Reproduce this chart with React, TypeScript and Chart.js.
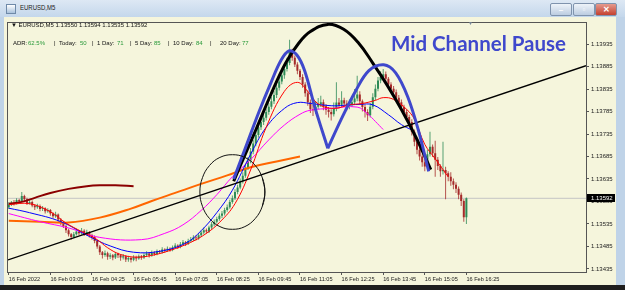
import React, { useEffect, useRef } from 'react';
import { Chart, registerables } from 'chart.js';
Chart.register(...registerables);

// prices are stored as points (0.00001) above 1.13000
const BASE = 1.13;
const PT = 0.00001;

const xTickIndex = [0, 16, 32, 48, 64, 80, 96, 112, 128, 144, 160, 176];
const xTickLabels = ['16 Feb 2022', '16 Feb 03:05', '16 Feb 04:25', '16 Feb 05:45', '16 Feb 07:05', '16 Feb 08:25', '16 Feb 09:45', '16 Feb 11:05', '16 Feb 12:25', '16 Feb 13:45', '16 Feb 15:05', '16 Feb 16:25'];
const yTicks = [1.13435, 1.13485, 1.13535, 1.13585, 1.13635, 1.13685, 1.13735, 1.13785, 1.13835, 1.13885, 1.13935];

const opens = [572,578,582,580,588,585,597,590,581,584,
 576,572,575,568,570,563,566,558,552,556,
 545,538,530,521,512,506,512,518,514,520,
 513,517,510,506,497,485,472,466,470,462,
 465,460,468,465,460,463,456,459,455,461,
 458,463,460,466,469,465,471,468,474,472,
 478,476,480,477,483,487,484,490,494,491,
 497,500,505,503,510,516,521,518,527,534,
 540,546,553,558,566,572,584,592,606,616,
 630,642,660,676,696,714,733,750,762,771,
 784,796,808,822,838,852,866,880,893,918,
 905,890,876,862,845,826,806,790,788,796,
 802,806,797,789,784,779,792,805,800,810,
 803,797,801,806,814,823,808,795,784,777,
 796,817,836,854,862,868,858,845,836,828,
 816,806,795,784,773,762,740,718,700,685,
 672,663,690,707,692,678,664,652,655,648,
 640,630,622,613,600,586,550];
const highs = [583,586,588,592,591,606,600,593,589,587,
 579,580,578,575,572,570,568,561,562,558,
 548,541,533,524,515,517,524,521,526,523,
 522,519,513,509,499,488,475,476,473,470,
 468,472,471,468,468,465,464,462,465,464,
 467,466,470,474,472,476,474,478,477,483,
 481,485,483,487,492,490,495,499,497,502,
 506,510,509,515,520,527,525,531,539,545,
 551,558,564,571,578,589,598,612,622,636,
 650,667,684,704,722,740,758,772,780,792,
 804,818,831,846,861,876,890,905,945,925,
 910,895,880,868,850,832,812,800,808,815,
 820,812,802,795,790,805,850,815,830,816,
 810,812,818,835,865,830,812,800,790,804,
 826,845,862,875,880,874,862,850,842,834,
 822,812,800,790,778,768,745,724,706,690,
 678,700,740,712,720,684,668,718,662,652,
 650,636,628,618,605,590,594];
const lows = [568,575,576,578,580,583,586,577,578,572,
 566,569,563,564,558,560,553,547,549,540,
 532,526,515,507,500,503,509,510,511,508,
 510,505,500,492,480,466,458,462,455,457,
 454,457,459,453,456,450,451,449,452,452,
 455,455,457,462,460,462,464,465,468,469,
 471,473,473,474,480,479,481,487,486,488,
 494,497,498,500,506,512,513,515,523,530,
 536,542,548,554,562,569,580,588,601,612,
 625,638,655,670,690,708,727,744,755,765,
 778,790,802,815,832,846,858,874,888,898,
 884,868,855,838,818,798,782,775,780,790,
 795,788,778,772,765,774,786,792,795,795,
 788,790,796,800,808,800,785,772,764,772,
 790,810,830,848,855,850,838,828,820,808,
 798,786,775,765,752,732,708,690,676,662,
 652,658,685,684,640,655,640,645,590,630,
 620,612,604,590,575,540,535];
const closes = [578,582,580,588,585,597,590,581,584,576,
 572,575,568,570,563,566,558,552,556,545,
 538,530,521,512,506,512,518,514,520,513,
 517,510,506,497,485,472,466,470,462,465,
 460,468,465,460,463,456,459,455,461,458,
 463,460,466,469,465,471,468,474,472,478,
 476,480,477,483,487,484,490,494,491,497,
 500,505,503,510,516,521,518,527,534,540,
 546,553,558,566,572,584,592,606,616,630,
 642,660,676,696,714,733,750,762,771,784,
 796,808,822,838,852,866,880,893,918,905,
 890,876,862,845,826,806,790,788,796,802,
 806,797,789,784,779,792,805,800,810,803,
 797,801,806,814,823,808,795,784,777,796,
 817,836,854,862,868,858,845,836,828,816,
 806,795,784,773,762,740,718,700,685,672,
 663,690,707,692,678,664,652,655,648,640,
 630,622,613,600,586,550,592];

// moving averages: [bar index, points]
const maRed = [[0,578],[8,580],[16,562],[22,537],[28,518],[34,500],[38,482],[43,467],[49,461],[55,465],[62,476],[70,494],[76,514],[81,538],[87,580],[93,655],[99,750],[106,830],[111,850],[115,830],[119,802],[125,792],[131,800],[136,803],[141,810],[144,816],[148,812],[153,790],[156,768],[160,712],[164,680],[169,640]];
const maBlue = [[0,570],[8,560],[20,540],[31,507],[39,486],[48,472],[58,474],[68,492],[74,520],[80,560],[86,610],[93,690],[99,750],[106,792],[111,805],[116,803],[124,798],[129,799],[135,801],[140,800],[146,778],[151,756],[155,744]];
const maMagenta = [[0,558],[12,540],[23,526],[35,505],[51,500],[60,514],[67,533],[74,565],[80,600],[86,640],[93,678],[100,722],[106,755],[112,779],[116,788],[124,792],[134,795],[138,780],[141,763],[144,745]];
const maOrange = [[0,542],[12,540],[23,538],[35,549],[47,569],[55,586],[64,604],[74,624],[84,643],[93,661],[103,674],[112,685]];
const maDarkRed = [[0,580],[5,584],[10,593],[16,604],[23,613],[30,619],[35,621],[41,621],[48,619]];

// hand-drawn annotations: [bar index, points]
const trendLine = [[-0.3,455],[222,887]];
const arcLine = [[86.5,630],[89.2,667],[95,744],[100.8,823],[106.5,893],[111.5,937],[116,963],[122.7,979],[128.8,968],[134.6,937],[140,893],[145.4,845],[150.8,792],[156.5,729],[162.3,656]];
const mLeft = [[86.5,635],[91.2,707],[96.2,784],[100.8,849],[104.6,898],[107.7,920],[110.8,911],[113.8,876],[117.7,795],[122.7,703]];
const mRight = [[122.7,703],[127.7,766],[133.5,832],[138.5,876],[144.2,889],[148.8,871],[153.5,817],[157.7,740],[161.5,652]];
const circleLine = [[97.5,574],[98.5,606],[97.5,638],[94.8,665],[90.8,683],[86,689],[81.2,683],[77.2,665],[74.5,638],[73.5,606],[74.5,574],[77.2,547],[81.2,529],[86,523],[90.8,529],[94.8,547],[97.5,574],[98.5,606],[97.5,638]];
const bidPts = 592;

const toPrice = (p: number) => +(BASE + p * PT).toFixed(5);
const pairs = (arr: number[][]) => arr.map(([x, y]) => ({ x, y: toPrice(y) }));
const fmt = (p: number) => toPrice(p).toFixed(5);

const UP = '#2e8b57';
const DN = '#a52a2a';
const UPW = 'rgba(46,139,87,0.8)';
const DNW = 'rgba(165,42,42,0.8)';
const FONT = '"Liberation Sans", Arial, sans-serif';

const line = (data: number[][], color: string, width: number, order: number, tension = 0.4) => ({
  type: 'line' as const,
  data: pairs(data),
  borderColor: color,
  borderWidth: width,
  pointRadius: 0,
  fill: false,
  tension,
  order,
});

export default function App() {
  const ref = useRef<HTMLCanvasElement>(null);
  useEffect(() => {
    document.body.style.margin = '0';
    const idx = closes.map((_, i) => i);
    const isUp = (i: number) => closes[i] >= opens[i];
    const framePlugin = {
      id: 'frame',
      afterDatasetsDraw(chart: any) {
        const { ctx, chartArea: a } = chart;
        ctx.save();
        ctx.strokeStyle = '#555';
        ctx.lineWidth = 1;
        ctx.strokeRect(Math.round(a.left) - 0.5, Math.round(a.top) - 0.5, Math.round(a.right - a.left) + 1, Math.round(a.bottom - a.top) + 1);
        ctx.restore();
      },
      afterDraw(chart: any) {
        const { ctx, chartArea: a } = chart;
        const y = chart.scales.y.getPixelForValue(toPrice(bidPts));
        ctx.save();
        ctx.fillStyle = '#000';
        ctx.fillRect(a.right + 1, Math.round(y) - 4, 28, 8);
        ctx.fillStyle = '#fff';
        ctx.font = '6px ' + FONT;
        ctx.textBaseline = 'middle';
        ctx.fillText(fmt(bidPts), a.right + 5, Math.round(y));
        ctx.restore();
      },
    };
    const chart = new Chart(ref.current as HTMLCanvasElement, {
      type: 'line',
      data: {
        datasets: [
          line(circleLine, '#111', 1, 1, 0.4),
          line(mLeft, '#3f48cc', 3, 2, 0.35),
          line(mRight, '#3f48cc', 3, 2, 0.35),
          line(arcLine, '#000', 3, 3, 0.4),
          line(trendLine, '#000', 1.4, 4, 0),
          line(maRed, '#ff0000', 1, 5),
          line(maBlue, '#0000ff', 1, 6),
          line(maMagenta, '#ff00ff', 1, 7),
          line(maOrange, '#ff6600', 2, 8),
          line(maDarkRed, '#8b0000', 2, 9),
          {
            type: 'bar' as const,
            data: idx.map((i) => ({ x: i, y: [toPrice(opens[i]), toPrice(closes[i])] })) as any,
            barThickness: 2,
            grouped: false,
            inflateAmount: 0,
            borderWidth: 0,
            backgroundColor: (c: any) => (isUp(c.dataIndex) ? UP : DN),
            order: 19,
          },
          {
            type: 'bar' as const,
            data: idx.map((i) => ({ x: i, y: [toPrice(lows[i]), toPrice(highs[i])] })) as any,
            barThickness: 1,
            grouped: false,
            inflateAmount: 0,
            borderWidth: 0,
            backgroundColor: (c: any) => (isUp(c.dataIndex) ? UPW : DNW),
            order: 20,
          },
          line([[-0.3, bidPts], [222, bidPts]], '#c4c4c4', 1, 25, 0),
        ] as any,
      },
      options: {
        animation: false,
        responsive: false,
        maintainAspectRatio: false,
        devicePixelRatio: 1,
        layout: { padding: { top: 2, left: 3, right: 0, bottom: 0 } },
        elements: { line: { capBezierPoints: false } },
        plugins: { legend: { display: false }, tooltip: { enabled: false } },
        scales: {
          x: {
            type: 'linear',
            min: -0.3,
            max: 222,
            offset: false,
            afterBuildTicks: (s: any) => { s.ticks = xTickIndex.map((v) => ({ value: v })); },
            afterFit: (s: any) => { s.height = 13; },
            grid: { drawOnChartArea: false, drawTicks: true, tickLength: 3, color: '#555', offset: false },
            border: { display: false },
            ticks: {
              autoSkip: false,
              maxRotation: 0,
              align: 'start',
              padding: 1,
              color: '#222',
              font: { size: 5.6, family: FONT },
              callback: (_v: any, i: number) => xTickLabels[i],
            },
          },
          y: {
            type: 'linear',
            position: 'right',
            min: toPrice(428),
            max: toPrice(983),
            afterBuildTicks: (s: any) => { s.ticks = yTicks.map((v) => ({ value: v })); },
            afterFit: (s: any) => { s.width = 30; },
            grid: { drawOnChartArea: false, drawTicks: true, tickLength: 3, color: '#555' },
            border: { display: false },
            ticks: {
              padding: 2,
              color: '#222',
              font: { size: 6, family: FONT },
              callback: (v: any) => Number(v).toFixed(5),
            },
          },
        },
      } as any,
      plugins: [framePlugin],
    });
    return () => chart.destroy();
  }, []);

  const last = closes.length - 1;
  const green = '#2a9a3a';
  const seg = (left: number, text: string, color = '#111') => (
    <span style={{ position: 'absolute', left, top: 0, color }}>{text}</span>
  );
  const btn = (left: number, bg: string, glyph: string) => (
    <div style={{ position: 'absolute', left, top: 3, width: 20, height: 11, borderRadius: 2, border: '1px solid #7f93ad', background: bg, color: '#fff', fontSize: 8, lineHeight: '11px', textAlign: 'center', fontFamily: FONT, fontWeight: 'bold' }}>{glyph}</div>
  );

  return (
    <div style={{ position: 'relative', width: 625, height: 290, overflow: 'hidden', background: '#bfd3e8', fontFamily: FONT }}>
      <div style={{ position: 'absolute', left: 0, top: 0, width: 625, height: 17, background: 'linear-gradient(#dde8f4, #c4d7eb)' }} />
      <div style={{ position: 'absolute', left: 6, top: 4, width: 8, height: 8, border: '1px solid #6f8aa8', background: 'linear-gradient(#ffffff, #a9c2dc)' }} />
      <div style={{ position: 'absolute', left: 20, top: 3, fontSize: 8, lineHeight: '10px', color: '#1a1a1a', transform: 'scaleX(0.75)', transformOrigin: 'left', whiteSpace: 'nowrap' }}>EURUSD,M5</div>
      {btn(550, 'linear-gradient(#eef3f9, #bccde1)', '–')}
      {btn(573, 'linear-gradient(#eef3f9, #bccde1)', '▫')}
      {btn(595, 'linear-gradient(#e59a8e, #c4402f)', '✕')}
      <div style={{ position: 'absolute', left: 4, top: 17, width: 612, height: 268, background: '#f5f5dc' }} />
      <div style={{ position: 'absolute', left: 0, top: 285, width: 625, height: 5, background: '#1e1e1e' }} />
      <canvas ref={ref} width={611} height={268} style={{ position: 'absolute', left: 5, top: 17, width: 611, height: 268 }} />
      <div style={{ position: 'absolute', left: 11, top: 21, fontSize: 6, lineHeight: '8px', color: '#111', whiteSpace: 'nowrap' }}>
        {'▼ EURUSD,M5  ' + [opens[last], highs[last], lows[last], closes[last]].map(fmt).join(' ')}
      </div>
      <div style={{ position: 'absolute', left: 0, top: 39, width: 300, height: 8, fontSize: 6, lineHeight: '8px', whiteSpace: 'nowrap' }}>
        {seg(13, 'ADR:')}{seg(28, '62.5%', green)}
        {seg(54, '|')}{seg(59, 'Today:')}{seg(80, '50', green)}
        {seg(92, '|')}{seg(97, '1 Day:')}{seg(117, '71', green)}
        {seg(130, '|')}{seg(135, '5 Day:')}{seg(154, '85', green)}
        {seg(168, '|')}{seg(173, '10 Day:')}{seg(196, '84', green)}
        {seg(210, '|')}{seg(220, '20 Day:')}{seg(242, '77', green)}
      </div>
      <div style={{ position: 'absolute', left: 468, top: 20, fontSize: 5, lineHeight: '6px', color: '#7a8a9c' }}>▼</div>
      <div style={{ position: 'absolute', left: 391, top: 32, fontSize: 20.5, lineHeight: '22px', fontWeight: 'bold', color: '#3f48cc', fontFamily: 'Lato, "Open Sans", sans-serif', whiteSpace: 'nowrap' }}>Mid Channel Pause</div>
    </div>
  );
}
